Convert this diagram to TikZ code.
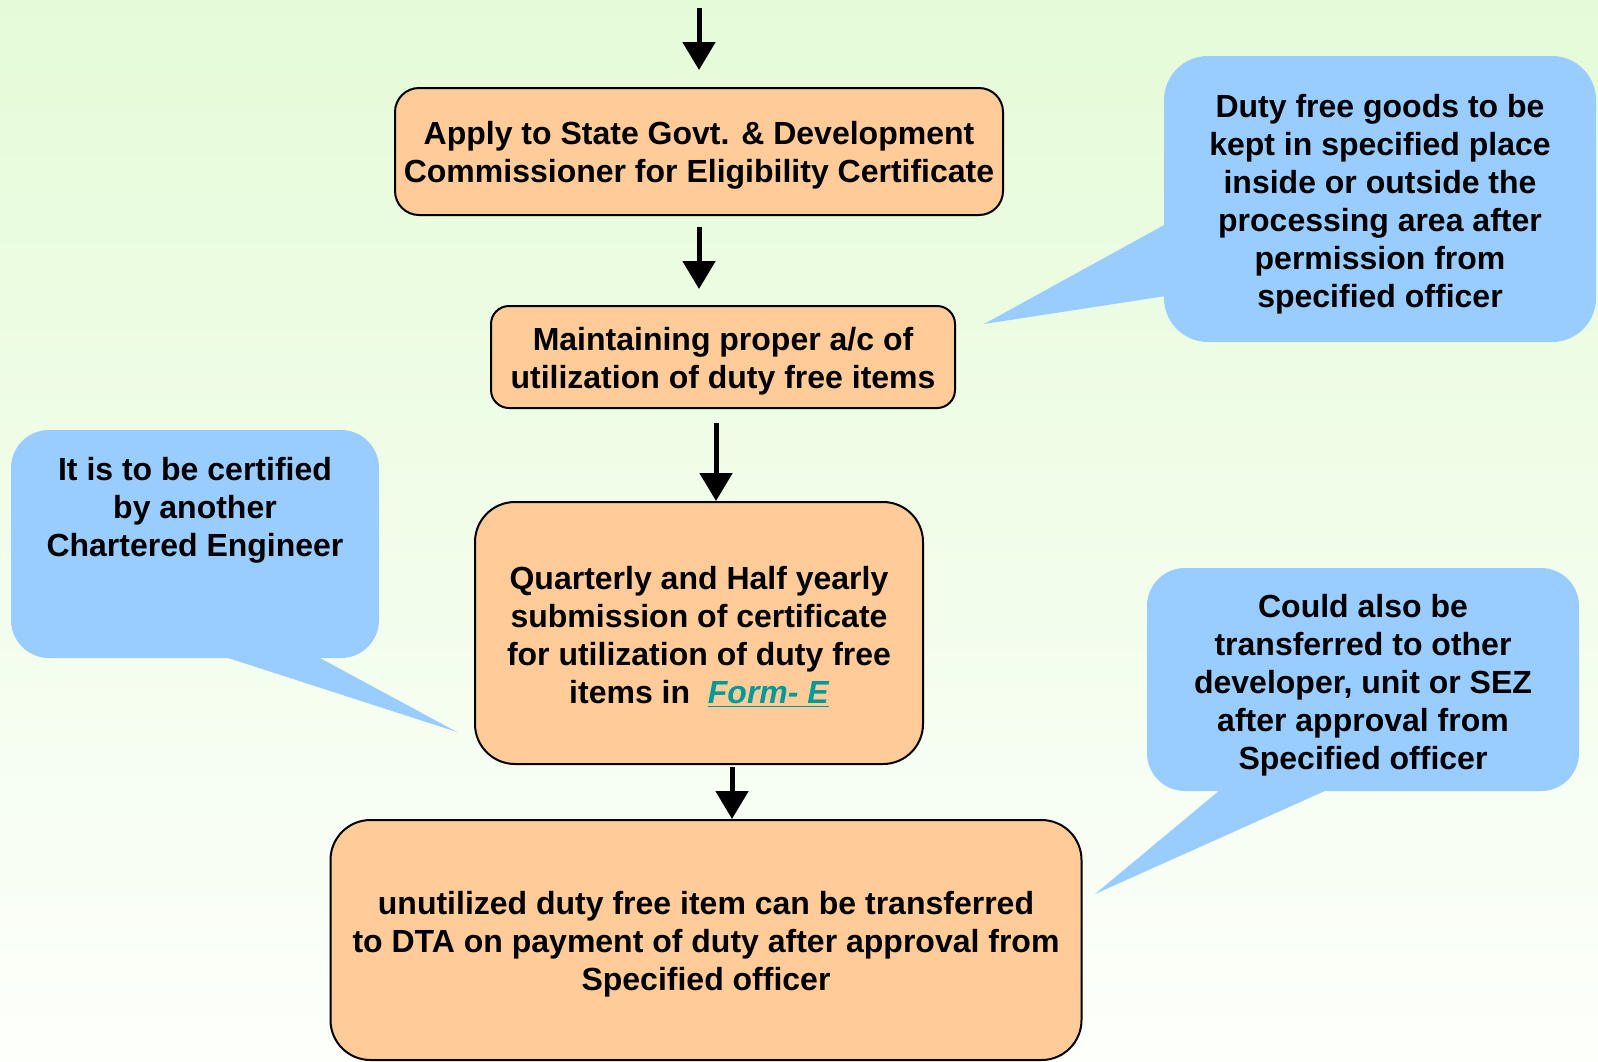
\documentclass[tikz,border=0pt]{standalone}
\usepackage{fontspec}
\setmainfont{Liberation Sans}
\usetikzlibrary{arrows.meta}
\definecolor{peach}{RGB}{255,204,153}
\definecolor{sky}{RGB}{153,204,255}
\definecolor{linkteal}{RGB}{0,153,153}
\definecolor{bgtop}{RGB}{229,251,216}
\definecolor{bgbot}{RGB}{253,255,251}
\newcommand{\boxtop}{\rule{0pt}{15.8pt}}

\begin{document}
\begin{tikzpicture}[x=0.5pt, y=-0.5pt, font=\bfseries\fontsize{16}{19}\selectfont, main/.style = {draw, line width=1pt, fill=peach, align=center, inner sep=0pt}, note/.style = {align=center, inner sep=0pt}, bubble/.style = {fill=sky, rounded corners=22pt}, flow/.style = {-{Triangle[width=16pt,length=14pt]}, line width=2.5pt}]
    \useasboundingbox (0,0) rectangle (1598,1061);
    \shade[top color=bgtop, bottom color=bgbot] (0,1061) rectangle (1598,0);

    \fill[bubble] (1164,56) rectangle (1596,342);
    \fill[sky] (1166,224) -- (984,324) -- (1166,296) -- cycle;
    \fill[bubble, rounded corners=19pt] (11,430) rectangle (379,658);
    \fill[sky] (225,657) -- (457,732) -- (318,657) -- cycle;
    \fill[bubble, rounded corners=19pt] (1147,568) rectangle (1579,791);
    \fill[sky] (1220,790) -- (1095,894) -- (1327,790) -- cycle;

    \node[main, minimum width=304pt, minimum height=63.5pt, rounded corners=12pt] (1) at (699,151.5) {\boxtop Apply to State Govt. \& Development\\Commissioner for Eligibility Certificate};
    \node[main, minimum width=232pt, minimum height=51pt, rounded corners=9pt] (2) at (723,357) {\boxtop Maintaining proper a/c of\\utilization of duty free items};
    \node[main, minimum width=224pt, minimum height=131pt, rounded corners=20pt] (3) at (699,633) {\boxtop Quarterly and Half yearly\\submission of certificate\\for utilization of duty free\\items in \ \textcolor{linkteal}{\underline{\itshape Form- E}}};
    \node[main, minimum width=375.5pt, minimum height=120pt, rounded corners=20pt] (4) at (706,940) {\boxtop unutilized duty free item can be transferred\\to DTA on payment of duty after approval from\\Specified officer};

    \node[note] (5) at (1380,200) {\boxtop Duty free goods to be\\kept in specified place\\inside or outside the\\processing area after\\permission from\\specified officer};
    \node[note] (6) at (195,506.5) {\boxtop It is to be certified\\by another\\Chartered Engineer};
    \node[note] (7) at (1363,681) {\boxtop Could also be\\transferred to other\\developer, unit or SEZ\\after approval from\\Specified officer};

    \coordinate (0) at (699,8);
    \draw[flow, shorten >=8.5pt] (0) -- (1.north);
    \draw[flow, shorten <=5.5pt, shorten >=8pt] (1.south) -- (1.south |- 2.north);
    \draw[flow, shorten <=7pt] ([xshift=-3.5pt]2.south) -- ([xshift=-3.5pt]2.south |- 3.north);
    \draw[flow, shorten <=1pt] ([xshift=16.5pt]3.south) -- ([xshift=16.5pt]3.south |- 4.north);
\end{tikzpicture}
\end{document}
